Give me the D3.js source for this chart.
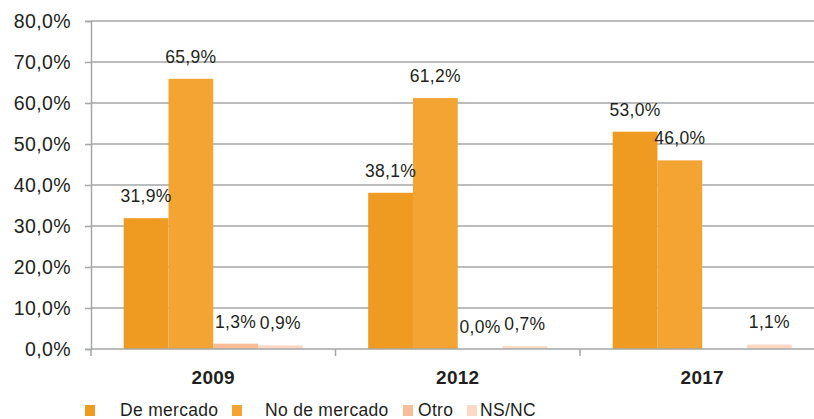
<!doctype html>
<html>
<head>
	<script src="https://d3js.org/d3.v7.min.js"></script>
</head>
<body style="margin: 0; background-color: white;">
	<div id="my_dataviz"></div>
	<script>
		// data
		var years = ["2009", "2012", "2017"];
		var seriesNames = ["De mercado", "No de mercado", "Otro", "NS/NC"];
		var deMercado = [31.9, 38.1, 53.0];
		var noDeMercado = [65.9, 61.2, 46.0];
		var otro = [1.3, 0.0, 0.0];
		var nsnc = [0.9, 0.7, 1.1];
		var labelsShown = [
			[true, true, true],
			[true, true, true],
			[true, true, false],
			[true, true, true]
		];
		var yTicks = [0, 10, 20, 30, 40, 50, 60, 70, 80];
		var colors = ["#ef9a20", "#f3a433", "#f8be98", "#fbd9c5"];

		var allSeries = [deMercado, noDeMercado, otro, nsnc];

		var width = 814, height = 419;
		var margin = {top: 21, left: 91, bottom: 70};
		var plotRight = 824.5;
		var textColor = "#231f20";
		var gridColor = "#a4a6a8";
		var fmt = function(v) { return d3.format(".1f")(v).replace(".", ",") + "%"; };

		var svg = d3.select("#my_dataviz")
		  .append("svg")
			.attr("width", width)
			.attr("height", height)
			.style("display", "block")
			.style("font-family", "'Liberation Sans', Arial, Helvetica, sans-serif");

		var x = d3.scaleBand()
			.domain(years)
			.range([margin.left, plotRight]);

		var xInner = d3.scaleBand()
			.domain(seriesNames)
			.range([0, x.bandwidth()])
			.paddingOuter(0.73)
			.paddingInner(0);

		var y = d3.scaleLinear()
			.domain([0, 80])
			.range([349, margin.top]);

		// gridlines
		svg.append("g")
			.selectAll("line")
			.data(yTicks.filter(function(d) { return d > 0; }))
			.enter()
			.append("line")
			  .attr("x1", margin.left)
			  .attr("x2", plotRight)
			  .attr("y1", function(d) { return y(d); })
			  .attr("y2", function(d) { return y(d); })
			  .attr("stroke", gridColor)
			  .attr("stroke-width", 1.5);

		// y axis
		var yAxis = svg.append("g")
			.attr("transform", "translate(" + margin.left + ",0)")
			.call(d3.axisLeft(y).tickValues(yTicks).tickSize(6).tickPadding(14).tickFormat(fmt));
		yAxis.select(".domain").attr("stroke", gridColor).attr("stroke-width", 1.5);
		yAxis.selectAll(".tick line").attr("stroke", gridColor).attr("stroke-width", 1.5);
		yAxis.selectAll(".tick text")
			.style("font-size", "19.5px")
			.style("letter-spacing", "0.4px")
			.attr("fill", textColor);

		// bars
		var groups = svg.append("g")
			.selectAll("g")
			.data(years)
			.enter()
			.append("g")
			  .attr("transform", function(d) { return "translate(" + x(d) + ",0)"; });

		groups.selectAll("rect")
			.data(function(d, i) {
				return seriesNames.map(function(s, j) { return {s: s, j: j, v: allSeries[j][i], i: i}; });
			})
			.enter()
			.append("rect")
			  .attr("x", function(d) { return xInner(d.s); })
			  .attr("width", xInner.bandwidth())
			  .attr("y", function(d) { return y(d.v); })
			  .attr("height", function(d) { return y(0) - y(d.v); })
			  .attr("fill", function(d) { return colors[d.j]; });

		// value labels
		groups.selectAll("text")
			.data(function(d, i) {
				return seriesNames.map(function(s, j) { return {s: s, j: j, v: allSeries[j][i], i: i}; })
					.filter(function(d) { return labelsShown[d.j][d.i]; });
			})
			.enter()
			.append("text")
			  .attr("x", function(d) { return xInner(d.s) + xInner.bandwidth() / 2; })
			  .attr("y", function(d) { return y(d.v) - 16; })
			  .attr("text-anchor", "middle")
			  .style("font-size", "17.5px")
			  .style("letter-spacing", "0.3px")
			  .attr("fill", textColor)
			  .text(function(d) { return fmt(d.v); });

		// x axis
		var xAxis = svg.append("g")
			.attr("transform", "translate(0,349)");
		xAxis.append("line")
			.attr("x1", margin.left).attr("x2", plotRight)
			.attr("stroke", gridColor).attr("stroke-width", 1.5);
		xAxis.selectAll(".tk")
			.data(years.concat(["end"]))
			.enter()
			.append("line")
			  .attr("x1", function(d, i) { return margin.left + i * x.step(); })
			  .attr("x2", function(d, i) { return margin.left + i * x.step(); })
			  .attr("y1", 0).attr("y2", 7)
			  .attr("stroke", gridColor).attr("stroke-width", 1.5);
		xAxis.selectAll("text")
			.data(years)
			.enter()
			.append("text")
			  .attr("x", function(d) { return x(d) + x.bandwidth() / 2; })
			  .attr("y", 35)
			  .attr("text-anchor", "middle")
			  .style("font-size", "19px")
			  .style("font-weight", "bold")
			  .style("letter-spacing", "0.3px")
			  .attr("fill", textColor)
			  .text(function(d) { return d; });

		// legend
		var legendPos = [{m: 85, t: 120}, {m: 232, t: 265}, {m: 403, t: 418}, {m: 467, t: 480}];
		var legend = svg.append("g")
			.selectAll("g")
			.data(seriesNames)
			.enter()
			.append("g");
		legend.append("rect")
			.attr("x", function(d, i) { return legendPos[i].m; })
			.attr("y", 405)
			.attr("width", 10)
			.attr("height", 11)
			.attr("fill", function(d, i) { return colors[i]; });
		legend.append("text")
			.attr("x", function(d, i) { return legendPos[i].t; })
			.attr("y", 416)
			.style("font-size", "17.5px")
			.style("letter-spacing", "0.3px")
			.attr("fill", textColor)
			.text(function(d) { return d; });
	</script>
</body>
</html>
